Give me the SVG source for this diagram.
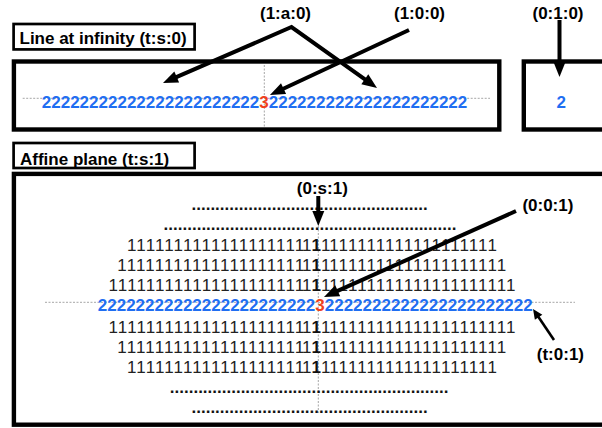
<svg xmlns="http://www.w3.org/2000/svg" width="602" height="428" viewBox="0 0 602 428">
<style>
text{font-family:"Liberation Sans",Arial,"Noto Sans",sans-serif;font-size:17px}
.lbl{font-weight:bold;fill:#000}
.two{font-weight:bold;fill:#1f6ef2}
.three{fill:#f0401c}
.one{fill:#222;font-weight:normal}
.bone{fill:#111;font-weight:bold}
.dot{font-weight:bold;fill:#111}
.box{fill:#fff;stroke:#000;stroke-width:4.4}
.tag{fill:#fff;stroke:#000;stroke-width:2.7}
.guide{stroke:#9c9c9c;stroke-width:0.9;stroke-dasharray:2 1.5;fill:none}
.arr{stroke:#000;stroke-width:4;fill:none;stroke-linejoin:miter}
.arr2{stroke:#000;stroke-width:2.6;fill:none}
</style>
<defs>
<marker id="ah" markerUnits="userSpaceOnUse" markerWidth="16" markerHeight="12" refX="8" refY="6" orient="auto-start-reverse" overflow="visible"><path d="M0,0 L15,6 L0,12 Z" fill="#000"/></marker>
<marker id="ahs" markerUnits="userSpaceOnUse" markerWidth="11" markerHeight="9" refX="5" refY="4.5" orient="auto" overflow="visible"><path d="M0,0 L10,4.5 L0,9 Z" fill="#000"/></marker>
</defs>
<rect x="0" y="0" width="602" height="428" fill="#fff"/>

<g id="line-at-infinity-label">
<rect class="tag" x="13.6" y="24" width="181" height="25.4"/>
<text class="lbl" x="19.5" y="44.3">Line at infinity (t:s:0)</text>
</g>

<g id="line-at-infinity">
<rect class="box" x="13.9" y="61.5" width="485.4" height="68"/>
<line class="guide" x1="22.7" y1="98.3" x2="490" y2="98.3"/>
<line class="guide" x1="264.3" y1="65" x2="264.3" y2="127"/>
<text class="two" x="41.8" y="108.3">22222222222222222222222<tspan class="three">3</tspan>222222222222222222222</text>
</g>

<g id="point-010-box">
<rect class="box" x="523.8" y="61.5" width="100" height="68"/>
<text class="two" x="556.5" y="108.3">2</text>
</g>

<g id="affine-plane-label">
<rect class="tag" x="13.6" y="143" width="181" height="25"/>
<text class="lbl" x="20" y="165">Affine plane (t:s:1)</text>
</g>

<g id="affine-plane">
<rect class="box" x="13.9" y="173.9" width="620" height="250.8"/>
<line class="guide" x1="45" y1="302.3" x2="575" y2="302.3"/>
<line class="guide" x1="318.3" y1="198" x2="318.3" y2="413"/>
<text class="dot" x="191.5" y="209.5">..................................................</text>
<text class="dot" x="163.6" y="229.5">..............................................................</text>

<text class="one" y="251" x="127 136.32 145.64 154.96 164.28 173.6 182.92 192.24 201.56 210.88 220.2 229.52 238.84 248.16 257.48 266.8 276.12 285.44 294.76 302">11111111111111111111</text>
<text class="one" y="251" x="321 329.3 338.6 347.9 357.2 366.5 375.8 385.1 394.4 403.7 413 422.3 431.6 440.9 450.2 459.5 468.8 478.1 487.4">1111111111111111111</text>

<text class="one" y="271" x="117.3 126.64 135.98 145.32 154.66 164 173.34 182.68 192.02 201.36 210.7 220.04 229.38 238.72 248.06 257.4 266.74 276.08 285.42 294.76 302">111111111111111111111</text>
<text class="one" y="271" x="321 329.3 338.6 347.9 357.2 366.5 375.8 385.1 394.4 403.7 413 422.3 431.6 440.9 450.2 459.5 468.8 478.1 487.4 496.7">11111111111111111111</text>

<text class="one" y="291" x="108.5 117.81 127.13 136.44 145.76 155.07 164.39 173.7 183.01 192.33 201.64 210.96 220.27 229.59 238.9 248.21 257.53 266.84 276.16 285.47 294.79 302">1111111111111111111111</text>
<text class="one" y="291" x="321 329.3 338.6 347.9 357.2 366.5 375.8 385.1 394.4 403.7 413 422.3 431.6 440.9 450.2 459.5 468.8 478.1 487.4 496.7 506">111111111111111111111</text>

<text class="two" x="97.8" y="311">22222222222222222222222<tspan class="three">3</tspan>2222222222222222222222</text>

<text class="one" y="332.5" x="108.5 117.81 127.13 136.44 145.76 155.07 164.39 173.7 183.01 192.33 201.64 210.96 220.27 229.59 238.9 248.21 257.53 266.84 276.16 285.47 294.79 302">1111111111111111111111</text>
<text class="one" y="332.5" x="321 329.3 338.6 347.9 357.2 366.5 375.8 385.1 394.4 403.7 413 422.3 431.6 440.9 450.2 459.5 468.8 478.1 487.4 496.7 506">111111111111111111111</text>

<text class="one" y="352.5" x="117.3 126.64 135.98 145.32 154.66 164 173.34 182.68 192.02 201.36 210.7 220.04 229.38 238.72 248.06 257.4 266.74 276.08 285.42 294.76 302">111111111111111111111</text>
<text class="one" y="352.5" x="321 329.3 338.6 347.9 357.2 366.5 375.8 385.1 394.4 403.7 413 422.3 431.6 440.9 450.2 459.5 468.8 478.1 487.4 496.7">11111111111111111111</text>

<text class="one" y="372.5" x="127 136.32 145.64 154.96 164.28 173.6 182.92 192.24 201.56 210.88 220.2 229.52 238.84 248.16 257.48 266.8 276.12 285.44 294.76 302">11111111111111111111</text>
<text class="one" y="372.5" x="321 329.3 338.6 347.9 357.2 366.5 375.8 385.1 394.4 403.7 413 422.3 431.6 440.9 450.2 459.5 468.8 478.1 487.4">1111111111111111111</text>

<text class="dot" x="169.8" y="392.9">...........................................................</text>
<text class="dot" x="191.5" y="412.9">..................................................</text>

<text class="bone" x="311.5" y="251">1</text>
<text class="bone" x="311.5" y="271">1</text>
<text class="bone" x="311.5" y="291">1</text>
<text class="bone" x="311.5" y="332.5">1</text>
<text class="bone" x="311.5" y="352.5">1</text>
<text class="bone" x="311.5" y="372.5">1</text>
</g>

<g id="labels">
<text class="lbl" x="260" y="19">(1:a:0)</text>
<text class="lbl" x="394" y="19">(1:0:0)</text>
<text class="lbl" x="532.5" y="19">(0:1:0)</text>
<text class="lbl" x="296.8" y="194">(0:s:1)</text>
<text class="lbl" x="522.4" y="211">(0:0:1)</text>
<text class="lbl" x="536.8" y="360">(t:0:1)</text>
</g>

<g id="connectors">
<path class="arr" d="M169.4,80.2 L291.5,27 L371.3,83.9" marker-start="url(#ah)" marker-end="url(#ah)"/>
<path class="arr" d="M409,30 L276.3,92" marker-end="url(#ah)"/>
<path class="arr" d="M559.5,20 L559.5,70" marker-end="url(#ah)"/>
<path class="arr" d="M318.3,196 L318.3,219" marker-end="url(#ah)"/>
<path class="arr" d="M516,211 L330.4,294.1" marker-end="url(#ah)"/>
<path class="arr2" d="M554,340 L535.8,313.1" marker-end="url(#ahs)"/>
</g>
</svg>
